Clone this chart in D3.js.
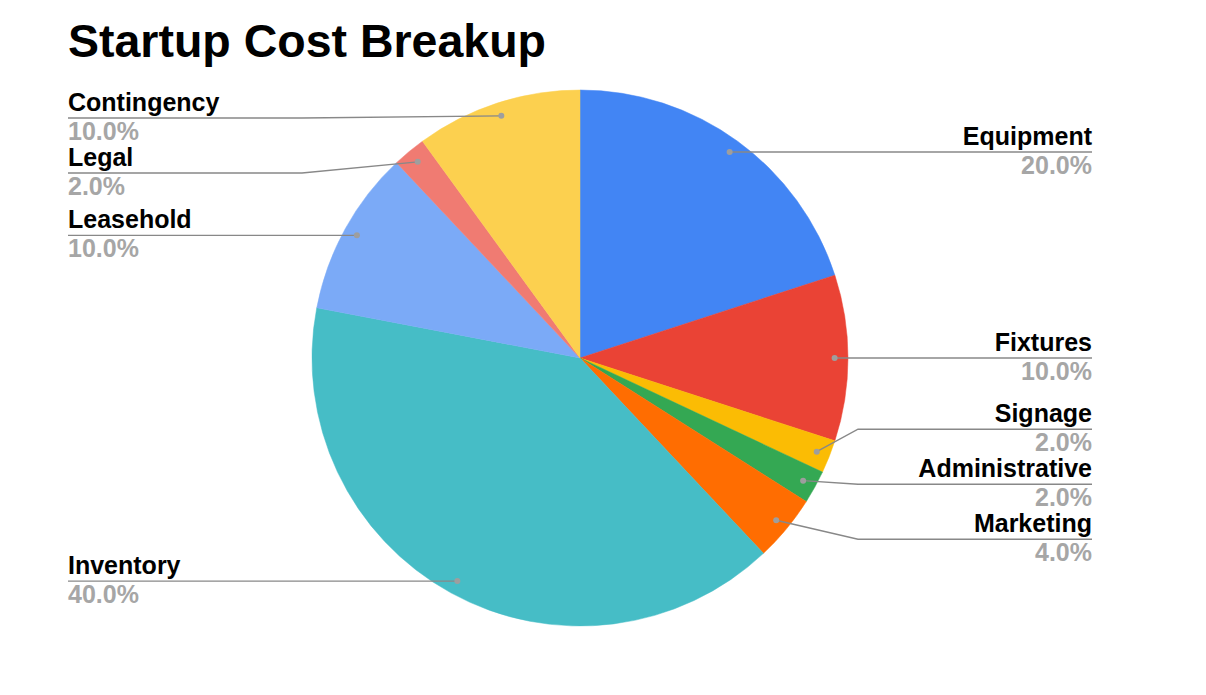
<!DOCTYPE html>
<html>
<head>
<meta charset="utf-8">
<script src="https://cdn.jsdelivr.net/npm/d3@7"></script>
<style>
  body { margin: 0; background: #fff; }
  svg { display: block; font-family: "Liberation Sans", Arial, sans-serif; }
</style>
</head>
<body>
<svg></svg>
<script>
// datos del gráfico
var categories = ["Equipment", "Fixtures", "Signage", "Administrative", "Marketing",
                  "Inventory", "Leasehold", "Legal", "Contingency"];
var values = [20, 10, 2, 2, 4, 40, 10, 2, 10];
var colors = ["#4285f4", "#ea4335", "#fbbc04", "#34a853", "#ff6d01",
              "#46bdc6", "#7baaf7", "#f07b72", "#fcd04f"];
var title = "Startup Cost Breakup";

var svgWidth = 1206, svgHeight = 695;
var cx = 580, cy = 358, radius = 268;
var labelOffset = 512;      // distancia horizontal del texto al centro
var bendOffset = radius + 10;
var gap = 55;               // separación mínima entre etiquetas
var minY = 118 - cy;        // límite superior de las etiquetas (relativo al centro)

var svg = d3.select("svg")
    .attr("width", svgWidth)
    .attr("height", svgHeight);

svg.append("text")
    .attr("x", 68)
    .attr("y", 57)
    .attr("font-size", 46.5)
    .attr("font-weight", "bold")
    .attr("fill", "#000")
    .text(title);

var data = categories.map(function(c, i) {
    return { name: c, value: values[i], color: colors[i] };
});
var total = d3.sum(values);

var pie = d3.pie().sort(null).value(function(d) { return d.value; });
var arcs = pie(data);

var arc = d3.arc().innerRadius(0).outerRadius(radius);
var dotArc = d3.arc().innerRadius(radius * 0.95).outerRadius(radius * 0.95);

var g = svg.append("g")
    .attr("transform", "translate(" + cx + "," + cy + ")");

g.selectAll("path.slice")
    .data(arcs)
    .enter().append("path")
    .attr("class", "slice")
    .attr("d", arc)
    .attr("fill", function(d) { return d.data.color; })
    .attr("stroke", function(d) { return d.data.color; })
    .attr("stroke-width", 0.5);

// posiciones de etiquetas
arcs.forEach(function(d) {
    var p = dotArc.centroid(d);
    d.dot = p;
    d.side = p[0] >= 0 ? 1 : -1;
    d.ly = p[1];
});

function groupStart(gr) {
    var mean = d3.mean(gr.items, function(d) { return d.dot[1]; });
    return Math.max(minY, mean - (gr.items.length - 1) * gap / 2);
}

function relax(list) {
    list.sort(function(a, b) { return a.dot[1] - b.dot[1]; });
    // los grupos que se solapan se centran en su media
    var groups = list.map(function(d) { return { items: [d] }; });
    var changed = true;
    while (changed) {
        changed = false;
        for (var i = 1; i < groups.length; i++) {
            var prev = groups[i - 1];
            if (groupStart(prev) + prev.items.length * gap > groupStart(groups[i]) + 0.5) {
                prev.items = prev.items.concat(groups[i].items);
                groups.splice(i, 1);
                changed = true;
                break;
            }
        }
    }
    groups.forEach(function(gr) {
        var start = groupStart(gr);
        gr.items.forEach(function(d, k) { d.ly = start + k * gap; });
    });
}
relax(arcs.filter(function(d) { return d.side > 0; }));
relax(arcs.filter(function(d) { return d.side < 0; }));

var labels = g.selectAll("g.label")
    .data(arcs)
    .enter().append("g")
    .attr("class", "label");

function bent(d) { return Math.abs(d.ly - d.dot[1]) > 2; }

labels.append("polyline")
    .attr("fill", "none")
    .attr("stroke", "#888")
    .attr("stroke-width", 1.4)
    .attr("points", function(d) {
        var pts = bent(d)
            ? [d.dot, [d.side * bendOffset, d.ly]]
            : [[d.dot[0], d.ly]];
        pts.push([d.side * labelOffset, d.ly]);
        return pts.map(function(p) { return p.join(","); }).join(" ");
    });

labels.append("circle")
    .attr("cx", function(d) { return d.dot[0]; })
    .attr("cy", function(d) { return bent(d) ? d.dot[1] : d.ly; })
    .attr("r", 3)
    .attr("fill", "#9e9e9e");

labels.append("text")
    .attr("x", function(d) { return d.side * labelOffset; })
    .attr("y", function(d) { return d.ly - 7; })
    .attr("text-anchor", function(d) { return d.side > 0 ? "end" : "start"; })
    .attr("font-size", 25)
    .attr("font-weight", "bold")
    .attr("fill", "#000")
    .text(function(d) { return d.data.name; });

labels.append("text")
    .attr("x", function(d) { return d.side * labelOffset; })
    .attr("y", function(d) { return d.ly + 22; })
    .attr("text-anchor", function(d) { return d.side > 0 ? "end" : "start"; })
    .attr("font-size", 25)
    .attr("font-weight", "bold")
    .attr("fill", "#a6a6a6")
    .text(function(d) { return (d.data.value / total * 100).toFixed(1) + "%"; });
</script>
</body>
</html>
